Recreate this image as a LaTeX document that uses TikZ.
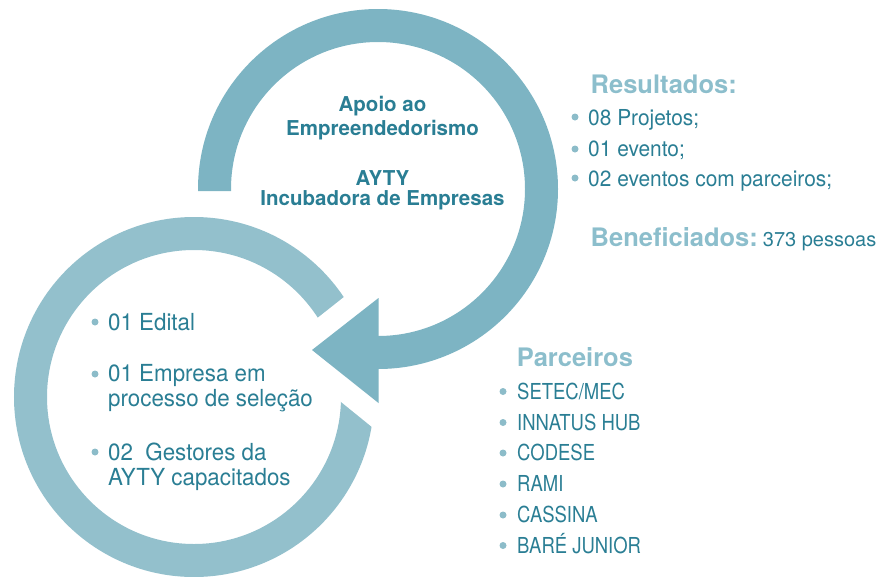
\documentclass[tikz,border=0pt]{standalone}
\usepackage{fontspec}
\setmainfont{TeX Gyre Heros}[FakeStretch=0.95]
\newfontfamily\widefam{TeX Gyre Heros}
\newfontfamily\narrowfam{TeX Gyre Heros}[FakeStretch=0.84]
\definecolor{ringA}{HTML}{7DB4C3}
\definecolor{ringB}{HTML}{93C0CC}
\definecolor{txt}{HTML}{2A7E94}
\definecolor{hdr}{HTML}{8CBECC}
\definecolor{dotc}{HTML}{8CBCC9}
\begin{document}
\begin{tikzpicture}[x=1pt,y=-1pt,
  ctr/.style={anchor=base, inner sep=0pt, text=txt, font=\widefam\fontsize{20.5}{22}\selectfont\bfseries},
  lft/.style={anchor=base west, inner sep=0pt, text=txt, font=\fontsize{23.5}{25}\selectfont},
  rgt/.style={anchor=base west, inner sep=0pt, text=txt, font=\fontsize{22}{24}\selectfont},
  prt/.style={anchor=base west, inner sep=0pt, text=txt, font=\narrowfam\fontsize{22}{24}\selectfont},
  hd/.style={anchor=base west, inner sep=0pt, text=hdr, font=\widefam\fontsize{25.5}{27}\selectfont\bfseries},
  bul/.style={fill=dotc}]
\useasboundingbox (0,0) rectangle (881,576);
\begin{scope}
\clip (0,0) rectangle (881,576);
% bottom ring
\draw[ringB, line width=33pt] (194,397) circle[radius=163.5];
% gap around the arrow head
\fill[white] (277,350) -- (430,229) -- (430,474) -- cycle;
% top ring
\draw[ringA, line width=33pt] (214.5,191) -- (214.5,189) arc[start angle=180, end angle=450, radius=163.5];
\fill[ringA] (312,350) -- (378.5,298) -- (378.5,403) -- cycle;
\end{scope}
% centre text
\node[ctr] (c1) at (382.5,111.7) {Apoio ao};
\node[ctr] (c2) at (382.5,135) {Empreendedorismo};
\node[ctr] (c3) at (382.5,185) {AYTY};
\node[ctr] (c4) at (382.5,205.7) {Incubadora de Empresas};
% left list
\fill[bul] (95,322) circle[radius=3.5];
\fill[bul] (95,374) circle[radius=3.5];
\fill[bul] (95,452) circle[radius=3.5];
\node[lft] (l1) at (108,330) {01 Edital};
\node[lft] (l2) at (108,381.7) {01 Empresa em};
\node[lft] (l3) at (108,406.7) {processo de seleção};
\node[lft] (l4) at (108,460) {02\ \ Gestores da};
\node[lft] (l5) at (108,485) {AYTY capacitados};
% results
\node[hd] (r0) at (590.5,93.3) {Resultados:};
\fill[bul] (575,117) circle[radius=3.5];
\fill[bul] (575,149) circle[radius=3.5];
\fill[bul] (575,178) circle[radius=3.5];
\node[rgt] (r1) at (588,125) {08 Projetos;};
\node[rgt] (r2) at (588,156.7) {01 evento;};
\node[rgt] (r3) at (588,186) {02 eventos com parceiros;};
\node[hd] (b0) at (590.5,246.7) {Beneficiados:};
\node[anchor=base west, inner sep=0pt, text=txt, font=\widefam\fontsize{20}{22}\selectfont] (b1) at (762.7,246.7) {373 pessoas};
% partners
\node[hd] (p0) at (516.7,366.7) {Parceiros};
\foreach \y/\t [count=\i] in {399/{SETEC/MEC},430/{INNATUS HUB},460.5/{CODESE},491.5/{RAMI},522.5/{CASSINA},553/{BARÉ JUNIOR}}{
  \fill[bul] (503,\y-7.5) circle[radius=3.5];
  \node[prt] (p\i) at (517,\y) {\t};
}
\end{tikzpicture}
\end{document}
